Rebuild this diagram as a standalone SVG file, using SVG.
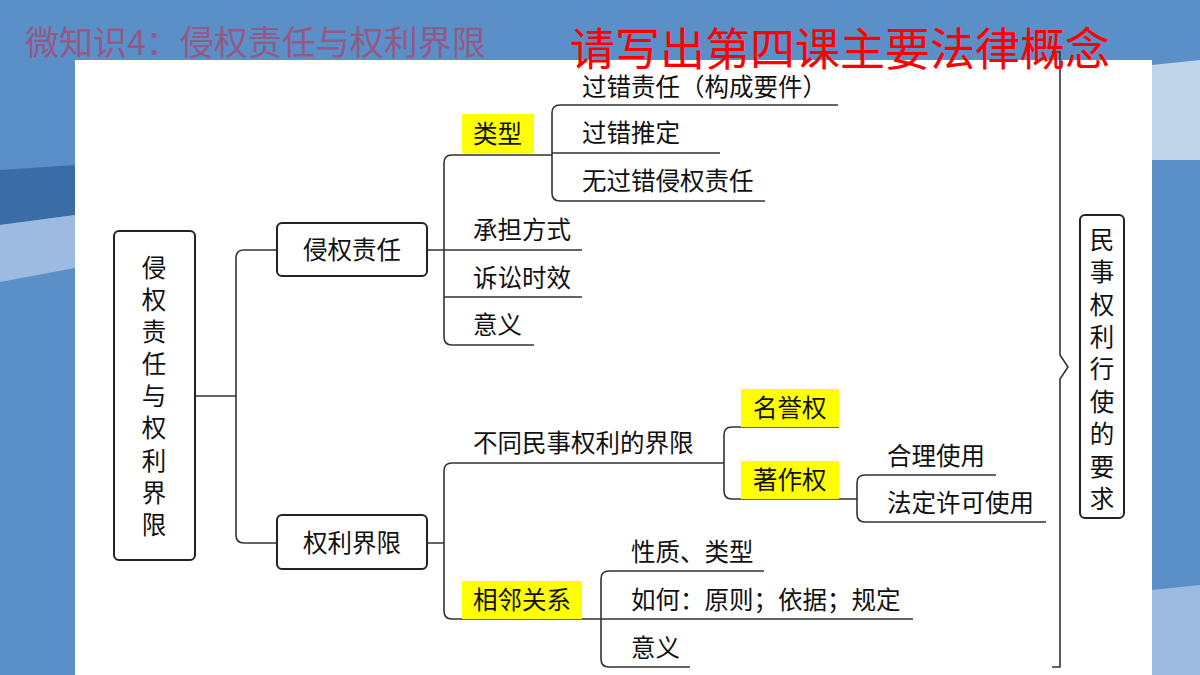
<svg xmlns="http://www.w3.org/2000/svg" width="1200" height="675" viewBox="0 0 1200 675">
<style>
text{font-family:"Noto Sans CJK SC","Noto Sans",sans-serif;font-size:24.5px;fill:#111}
.box{fill:#fff;stroke:#222;stroke-width:2}
.hl{fill:#ffff00}
.c{fill:none;stroke:#333;stroke-width:1.6}
.v{text-anchor:middle}
</style>
<rect width="1200" height="675" fill="#5b8fc7"/>
<polygon points="0,170 75,165 75,215 0,225" fill="#3a6ca6"/>
<polygon points="0,225 75,215 75,268 0,282" fill="#9dbbe0"/>
<polygon points="1152,65 1200,60 1200,160 1152,160" fill="#c0d4ea"/>
<polygon points="1152,590 1200,585 1200,675 1152,675" fill="#9dbbe0"/>
<rect x="75" y="60" width="1077" height="615" fill="#fff"/>
<g id="connectors">
<path class="c" d="M195,396 H236 M277,250 H244 Q236,250 236,258 V535 Q236,543 244,543 H277"/>
<path class="c" d="M427,250 H444 M552,155 H452 Q444,155 444,163 V337 Q444,345 452,345 H534 M444,250 H582 M444,297 H582"/>
<path class="c" d="M838,105 H560 Q552,105 552,113 V193 Q552,201 560,201 H765 M552,153 H720"/>
<path class="c" d="M427,543 H444 M724,463 H452 Q444,463 444,471 V611 Q444,619 452,619 H600"/>
<path class="c" d="M839,427 H732 Q724,427 724,435 V491 Q724,499 732,499 H857"/>
<path class="c" d="M996,475 H865 Q857,475 857,483 V514 Q857,522 865,522 H1046"/>
<path class="c" d="M764,571 H609 Q601,571 601,579 V659 Q601,667 609,667 H690 M600,619 H913"/>
<path class="c" d="M1052,52 H1060 V355 L1068,367 L1060,379 V667 H1052" stroke-width="2"/>
</g>
<text x="25" y="55" style="font-size:34px;fill:#a0507a;opacity:0.85">微知识4：侵权责任与权利界限</text>
<text x="570" y="66" style="font-size:45px;fill:#ff0000">请写出第四课主要法律概念</text>
<g id="root"><rect class="box" x="114" y="231" width="81" height="329" rx="5"/>
<text class="v" x="154" y="277">侵</text><text class="v" x="154" y="309">权</text><text class="v" x="154" y="341">责</text><text class="v" x="154" y="373">任</text><text class="v" x="154" y="405">与</text><text class="v" x="154" y="437">权</text><text class="v" x="154" y="470">利</text><text class="v" x="154" y="502">界</text><text class="v" x="154" y="534">限</text></g>
<g id="n1"><rect class="box" x="277" y="223" width="150" height="53" rx="5"/><text class="v" x="352" y="259">侵权责任</text></g>
<g id="n2"><rect class="box" x="277" y="515" width="150" height="54" rx="5"/><text class="v" x="352" y="552">权利界限</text></g>
<g id="leixing"><rect class="hl" x="462" y="114" width="72" height="39"/><text x="473" y="143">类型</text></g>
<g id="t1"><text x="582" y="96">过错责任（构成要件）</text></g>
<g id="t2"><text x="582" y="142">过错推定</text></g>
<g id="t3"><text x="582" y="190">无过错侵权责任</text></g>
<g id="t4"><text x="473" y="239">承担方式</text></g>
<g id="t5"><text x="473" y="287">诉讼时效</text></g>
<g id="t6"><text x="473" y="334">意义</text></g>
<g id="t7"><text x="473" y="452">不同民事权利的界限</text></g>
<g id="mingyu"><rect class="hl" x="741" y="389" width="98" height="38"/><text x="753" y="417">名誉权</text></g>
<g id="zhuzuo"><rect class="hl" x="741" y="461" width="98" height="38"/><text x="753" y="489">著作权</text></g>
<g id="t8"><text x="887" y="465">合理使用</text></g>
<g id="t9"><text x="887" y="512">法定许可使用</text></g>
<g id="xianglin"><rect class="hl" x="462" y="581" width="120" height="38"/><text x="473" y="609">相邻关系</text></g>
<g id="t10"><text x="631" y="561">性质、类型</text></g>
<g id="t11"><text x="631" y="609">如何：原则；依据；规定</text></g>
<g id="t12"><text x="631" y="657">意义</text></g>
<g id="right"><rect class="box" x="1080" y="215" width="44" height="303" rx="5"/>
<text class="v" x="1102" y="249">民</text><text class="v" x="1102" y="281">事</text><text class="v" x="1102" y="314">权</text><text class="v" x="1102" y="346">利</text><text class="v" x="1102" y="378">行</text><text class="v" x="1102" y="411">使</text><text class="v" x="1102" y="443">的</text><text class="v" x="1102" y="476">要</text><text class="v" x="1102" y="508">求</text></g>
</svg>
